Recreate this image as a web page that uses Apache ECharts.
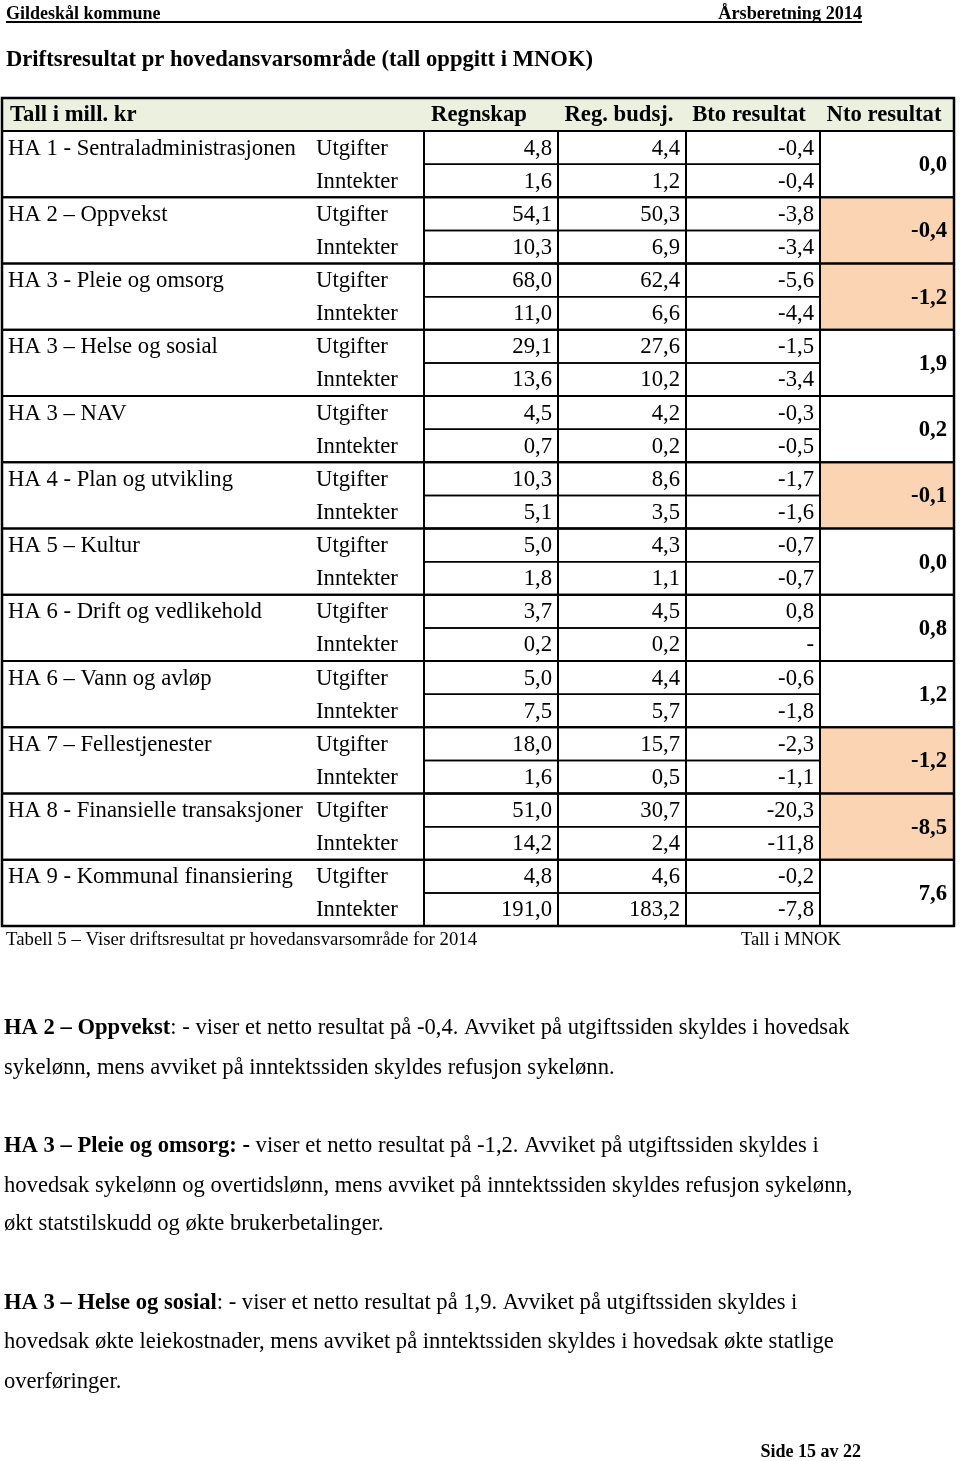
<!DOCTYPE html>
<html><head><meta charset="utf-8">
<script src="https://cdn.jsdelivr.net/npm/echarts@6/dist/echarts.min.js"></script>
<style>html,body{margin:0;padding:0;background:#fff}#c{width:960px;height:1461px}</style>
</head><body><div id="c"></div>
<script>
// ---------- data ----------
const areas = [
  'HA 1 - Sentraladministrasjonen',
  'HA 2 \u2013 Oppvekst',
  'HA 3 - Pleie og omsorg',
  'HA 3 \u2013 Helse og sosial',
  'HA 3 \u2013 NAV',
  'HA 4 - Plan og utvikling',
  'HA 5 \u2013 Kultur',
  'HA 6 - Drift og vedlikehold',
  'HA 6 \u2013 Vann og avl\u00f8p',
  'HA 7 \u2013 Fellestjenester',
  'HA 8 - Finansielle transaksjoner',
  'HA 9 - Kommunal finansiering'
];
const rowTypes = ['Utgifter', 'Inntekter'];
const headerLabels = ['Tall i mill. kr', 'Regnskap', 'Reg. budsj.', 'Bto resultat', 'Nto resultat'];
const regnskapUtg = [4.8, 54.1, 68.0, 29.1, 4.5, 10.3, 5.0, 3.7, 5.0, 18.0, 51.0, 4.8];
const regnskapInn = [1.6, 10.3, 11.0, 13.6, 0.7, 5.1, 1.8, 0.2, 7.5, 1.6, 14.2, 191.0];
const budsjUtg = [4.4, 50.3, 62.4, 27.6, 4.2, 8.6, 4.3, 4.5, 4.4, 15.7, 30.7, 4.6];
const budsjInn = [1.2, 6.9, 6.6, 10.2, 0.2, 3.5, 1.1, 0.2, 5.7, 0.5, 2.4, 183.2];
const btoUtg = [-0.4, -3.8, -5.6, -1.5, -0.3, -1.7, -0.7, 0.8, -0.6, -2.3, -20.3, -0.2];
const btoInn = [-0.4, -3.4, -4.4, -3.4, -0.5, -1.6, -0.7, null, -1.8, -1.1, -11.8, -7.8];
const ntoResultat = [0.0, -0.4, -1.2, 1.9, 0.2, -0.1, 0.0, 0.8, 1.2, -1.2, -8.5, 7.6];

// ---------- layout / style ----------
const SERIF = '"Liberation Serif","Times New Roman",serif';
const colEdges = [0, 422, 556, 684, 818, 952];       // axis units (px from table left)
const headerTextX = [8, 477, 617, 747, 882];
const headerAlign = ['left', 'center', 'center', 'center', 'center'];
const HEADER_FILL = '#ebf1de';
const NEG_FILL = '#fbd4b4';
const BODY_FONT = '22.7px ' + SERIF;
const BOLD_FONT = 'bold 22.7px ' + SERIF;
const PARA_SIZE = 22.6;

const fmt = v => v == null ? '-' : v.toFixed(1).replace('.', ',');

// build cell lists from data
const rects = [];   // {x0,x1,r0,r1,fill,lw}
const texts = [];   // {x,r0,r1,text,align,font}
rects.push({x0: colEdges[0], x1: colEdges[5], r0: 0, r1: 1, fill: HEADER_FILL, lw: 2});
headerLabels.forEach((h, i) => texts.push({x: headerTextX[i], r0: 0, r1: 1, text: h, align: headerAlign[i], font: BOLD_FONT}));
const numCols = [[regnskapUtg, regnskapInn], [budsjUtg, budsjInn], [btoUtg, btoInn]];
areas.forEach((a, g) => {
  const r0 = 1 + 2 * g;
  rects.push({x0: colEdges[0], x1: colEdges[1], r0: r0, r1: r0 + 2, fill: null, lw: 2});
  texts.push({x: 6, r0: r0, r1: r0 + 1, text: a, align: 'left', font: BODY_FONT});
  rowTypes.forEach((t, k) => texts.push({x: 314, r0: r0 + k, r1: r0 + k + 1, text: t, align: 'left', font: BODY_FONT}));
  numCols.forEach((pair, c) => {
    pair.forEach((arr, k) => {
      rects.push({x0: colEdges[c + 1], x1: colEdges[c + 2], r0: r0 + k, r1: r0 + k + 1, fill: null, lw: 1.5});
      texts.push({x: colEdges[c + 2] - 6, r0: r0 + k, r1: r0 + k + 1, text: fmt(arr[g]), align: 'right', font: BODY_FONT});
    });
    rects.push({x0: colEdges[c + 1], x1: colEdges[c + 2], r0: r0, r1: r0 + 2, fill: null, lw: 2});
  });
  const n = ntoResultat[g];
  rects.push({x0: colEdges[4], x1: colEdges[5], r0: r0, r1: r0 + 2, fill: n < 0 ? NEG_FILL : null, lw: 2});
  texts.push({x: colEdges[5] - 7, r0: r0, r1: r0 + 2, text: fmt(n), align: 'right', font: BOLD_FONT});
});
rects.push({x0: colEdges[0], x1: colEdges[5], r0: 0, r1: 25, fill: null, lw: 2.5});

function rectShape(api, d) {
  const p0 = api.coord([d.x0, d.r0]);
  const p1 = api.coord([d.x1, d.r1]);
  return {x: p0[0], y: p0[1], width: p1[0] - p0[0], height: p1[1] - p0[1]};
}

const chart = echarts.init(document.getElementById('c'), null, {renderer: 'canvas'});

const para = (y, text) => ({
  type: 'text', left: 4, top: y - 10,
  style: {
    text: text,
    font: PARA_SIZE + 'px ' + SERIF, fill: '#000',
    rich: {
      b: {fontFamily: SERIF, fontSize: PARA_SIZE, fontWeight: 'bold', fill: '#000', color: '#000'},
      n: {fontFamily: SERIF, fontSize: PARA_SIZE, fill: '#000', color: '#000'}
    }
  }
});

chart.setOption({
  animation: false,
  backgroundColor: '#fff',
  grid: {left: 2, top: 98, width: 952, height: 828},
  xAxis: {type: 'value', min: 0, max: 952, show: false},
  yAxis: {type: 'value', min: 0, max: 25, inverse: true, show: false},
  series: [
    {
      type: 'custom', coordinateSystem: 'cartesian2d', silent: true,
      data: rects.map((d, i) => [d.x0, d.r0, i]),
      renderItem: (params, api) => {
        const d = rects[params.dataIndex];
        if (!d.fill) return null;
        return {type: 'rect', shape: rectShape(api, d), style: {fill: d.fill}};
      },
      z: 1
    },
    {
      type: 'custom', coordinateSystem: 'cartesian2d', silent: true,
      data: rects.map((d, i) => [d.x0, d.r0, i]),
      renderItem: (params, api) => {
        const d = rects[params.dataIndex];
        return {type: 'rect', shape: rectShape(api, d), style: {fill: null, stroke: '#000', lineWidth: d.lw}};
      },
      z: 2
    },
    {
      type: 'custom', coordinateSystem: 'cartesian2d', silent: true,
      data: texts.map((d, i) => [d.x, d.r0, i]),
      renderItem: (params, api) => {
        const d = texts[params.dataIndex];
        const p0 = api.coord([d.x, d.r0]);
        const p1 = api.coord([d.x, d.r1]);
        return {
          type: 'text', x: p0[0], y: (p0[1] + p1[1]) / 2 + 1,
          style: {text: d.text, font: d.font, fill: '#000', textAlign: d.align, textVerticalAlign: 'middle'}
        };
      },
      z: 3
    }
  ],
  graphic: [
    {type: 'text', left: 6, top: 5, style: {text: 'Gildesk\u00e5l kommune', font: 'bold 18px ' + SERIF, fill: '#000'}},
    {type: 'text', right: 98, top: 5, style: {text: '\u00c5rsberetning 2014', font: 'bold 18.2px ' + SERIF, fill: '#000'}},
    {type: 'line', shape: {x1: 6, y1: 22, x2: 862, y2: 22}, style: {stroke: '#000', lineWidth: 1.8}},
    {type: 'text', left: 6, top: 49, style: {text: 'Driftsresultat pr hovedansvarsomr\u00e5de (tall oppgitt i MNOK)', font: 'bold 22.6px ' + SERIF, fill: '#000'}},
    {type: 'text', left: 6, top: 931, style: {text: 'Tabell 5 \u2013 Viser driftsresultat pr hovedansvarsomr\u00e5de for 2014', font: '18.8px ' + SERIF, fill: '#000'}},
    {type: 'text', left: 741, top: 931, style: {text: 'Tall i MNOK', font: '18.6px ' + SERIF, fill: '#000'}},
    para(1027, '{b|HA 2 \u2013 Oppvekst}{n|: - viser et netto resultat p\u00e5 -0,4. Avviket p\u00e5 utgiftssiden skyldes i hovedsak}'),
    para(1067, '{n|sykel\u00f8nn, mens avviket p\u00e5 inntektssiden skyldes refusjon sykel\u00f8nn.}'),
    para(1145, '{b|HA 3 \u2013 Pleie og omsorg: -}{n| viser et netto resultat p\u00e5 -1,2. Avviket p\u00e5 utgiftssiden skyldes i}'),
    para(1185, '{n|hovedsak sykel\u00f8nn og overtidsl\u00f8nn, mens avviket p\u00e5 inntektssiden skyldes refusjon sykel\u00f8nn,}'),
    para(1223, '{n|\u00f8kt statstilskudd og \u00f8kte brukerbetalinger.}'),
    para(1302, '{b|HA 3 \u2013 Helse og sosial}{n|: - viser et netto resultat p\u00e5 1,9. Avviket p\u00e5 utgiftssiden skyldes i}'),
    para(1341, '{n|hovedsak \u00f8kte leiekostnader, mens avviket p\u00e5 inntektssiden skyldes i hovedsak \u00f8kte statlige}'),
    para(1381, '{n|overf\u00f8ringer.}'),
    {type: 'text', right: 99, top: 1443, style: {text: 'Side 15 av 22', font: 'bold 18px ' + SERIF, fill: '#000'}}
  ]
});
</script>
</body></html>
